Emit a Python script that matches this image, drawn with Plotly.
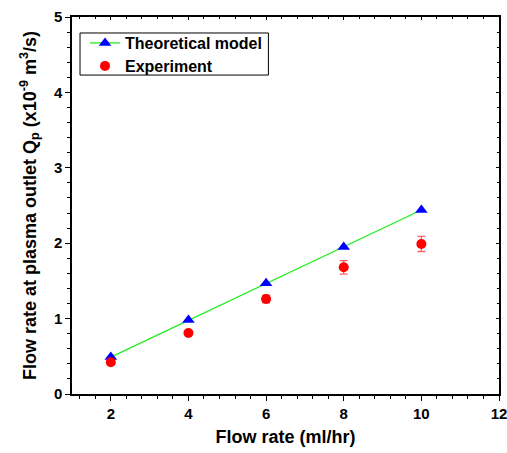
import plotly.graph_objects as go

flow_rate = [2, 4, 6, 8, 10]
theoretical = [0.49, 0.98, 1.47, 1.95, 2.44]
experiment = [0.42, 0.81, 1.26, 1.68, 1.99]
experiment_err = [0.02, 0.02, 0.05, 0.09, 0.10]

FONT = "Liberation Sans, Arial, sans-serif"

fig = go.Figure()
fig.add_trace(go.Scatter(
    x=flow_rate, y=theoretical, mode="lines+markers", name="Theoretical model",
    line=dict(color="#22ee22", width=1.3),
    marker=dict(symbol="triangle-up", size=11, color="#0000ff"),
    legend="legend",
))
fig.add_trace(go.Scatter(
    x=flow_rate, y=experiment, mode="markers", name="Experiment",
    marker=dict(symbol="circle", size=10, color="#ff0000"),
    error_y=dict(type="data", array=experiment_err, color="rgba(255,60,60,0.8)", thickness=1.3, width=4),
    legend="legend2",
))
# invisible trace to anchor the top/right axes (inside ticks)
fig.add_trace(go.Scatter(x=flow_rate, y=theoretical, xaxis="x2", yaxis="y2",
                         mode="markers", marker=dict(opacity=0), showlegend=False, hoverinfo="skip"))

tickfont = dict(family=FONT, size=15, color="black", weight="bold")
titlefont = dict(family=FONT, size=18, color="black", weight="bold")
legfont = dict(family=FONT, size=16, color="black", weight="bold")
leg_common = dict(xanchor="left", yanchor="middle", borderwidth=0,
                  bgcolor="rgba(0,0,0,0)", font=legfont, itemwidth=30)
fig.update_layout(
    width=507, height=453,
    margin=dict(l=72, r=8, t=17, b=59, autoexpand=False),
    paper_bgcolor="white", plot_bgcolor="white",
    showlegend=True,
    legend=dict(x=0.0305, y=0.931, **leg_common),
    legend2=dict(x=0.0305, y=0.870, **leg_common),
    shapes=[dict(type="rect", xref="paper", yref="paper", x0=0.0188, x1=0.460, y0=0.846, y1=0.9576,
                 line=dict(color="black", width=1), fillcolor="rgba(0,0,0,0)", layer="above")],
    xaxis=dict(range=[1, 12], tick0=0, dtick=2,
               ticks="outside", ticklen=5, tickwidth=1, tickcolor="black",
               minor=dict(dtick=0.4, tick0=0, ticks="outside", ticklen=3, tickcolor="black"),
               showline=True, linecolor="black", linewidth=1.5, mirror=True,
               showgrid=False, zeroline=False, tickfont=tickfont, automargin=False,
               ticklabeloverflow="allow",
               title=dict(text="Flow rate (ml/hr)", font=titlefont, standoff=10)),
    yaxis=dict(range=[0, 5], dtick=1, tick0=0,
               ticks="outside", ticklen=5, tickwidth=1, tickcolor="black",
               minor=dict(dtick=0.2, ticks="outside", ticklen=3, tickcolor="black"),
               showline=True, linecolor="black", linewidth=1.5, mirror=True,
               showgrid=False, zeroline=False, tickfont=tickfont, automargin=False,
               title=dict(text="Flow rate at plasma outlet Q<sub>p</sub> (x10<sup>-9</sup> m<sup>3</sup>/s)",
                          font=titlefont, standoff=13)),
    xaxis2=dict(range=[1, 12], overlaying="x", side="top", tick0=0, dtick=2,
                ticks="inside", ticklen=3, tickcolor="black", showticklabels=False,
                minor=dict(dtick=0.4, tick0=0, ticks="inside", ticklen=2, tickcolor="black"),
                showline=False, showgrid=False, zeroline=False, automargin=False),
    yaxis2=dict(range=[0, 5], overlaying="y", side="right", dtick=1, tick0=0,
                ticks="inside", ticklen=3, tickcolor="black", showticklabels=False,
                minor=dict(dtick=0.2, ticks="inside", ticklen=2, tickcolor="black"),
                showline=False, showgrid=False, zeroline=False, automargin=False),
)

fig.write_html(
    "out.html",
    config={"displayModeBar": False},
    post_script="document.body.style.margin='0';document.documentElement.style.overflow='hidden';",
)
